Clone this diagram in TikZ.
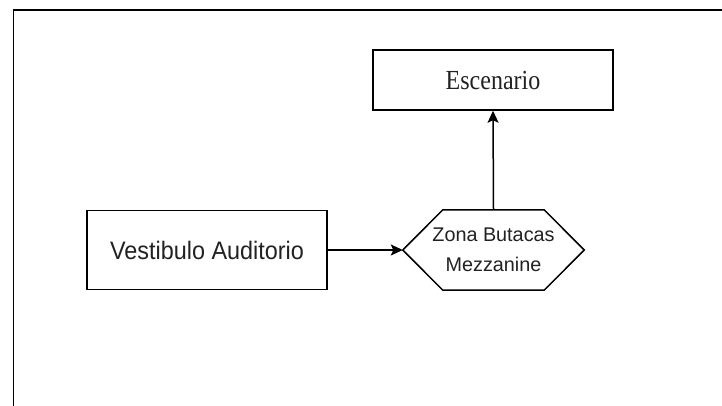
\documentclass[tikz,border=0pt]{standalone}
\usepackage{fontspec}
\setmainfont{Liberation Serif}
\newfontfamily\arialfont{Liberation Sans}
\usetikzlibrary{arrows.meta}
\definecolor{txt}{HTML}{222222}
\begin{document}
\begin{tikzpicture}[x=1pt,y=-1pt,
  box/.style={draw=black, line width=1.5pt, fill=white, minimum width=240pt, inner sep=0pt, text=txt},
  conn/.style={draw=black, line width=1.5pt, -{Stealth[length=12pt,width=11pt,inset=2.5pt]}},
  frameline/.style={draw=black, line width=1.8pt}]
\useasboundingbox (0,0) rectangle (722,405);
\fill[white] (0,0) rectangle (722,405);
\coordinate (ftl) at (13.5,10);
\coordinate (ftr) at (723,10);
\coordinate (fbl) at (13.5,406);
\draw[frameline] (ftr) -- (ftl) -- (fbl);

\node[box, minimum height=60pt] (esc) at (493,80)
  {\fontsize{24}{27}\selectfont\scalebox{1}[1.15]{Escenario}};
\node[box, minimum height=79pt] (vest) at (207,250)
  {\arialfont\fontsize{23.4}{27}\selectfont\scalebox{1}[1.08]{Vestibulo Auditorio}};
\node[inner sep=0pt, minimum width=181pt, minimum height=80pt, text=txt, align=center,
  font={\arialfont\fontsize{19.8}{30}\selectfont}] (zona) at (493.5,250)
  {Zona Butacas\\Mezzanine};
\draw[line width=1.5pt, line join=miter]
  (zona.west) -- ([xshift=40pt]zona.north west) -- ([xshift=-40pt]zona.north east)
  -- (zona.east) -- ([xshift=-40pt]zona.south east) -- ([xshift=40pt]zona.south west) -- cycle;

\draw[conn] (vest.east) -- (zona.west);
\draw[conn] (zona.north) -- (esc.south);
\end{tikzpicture}
\end{document}
